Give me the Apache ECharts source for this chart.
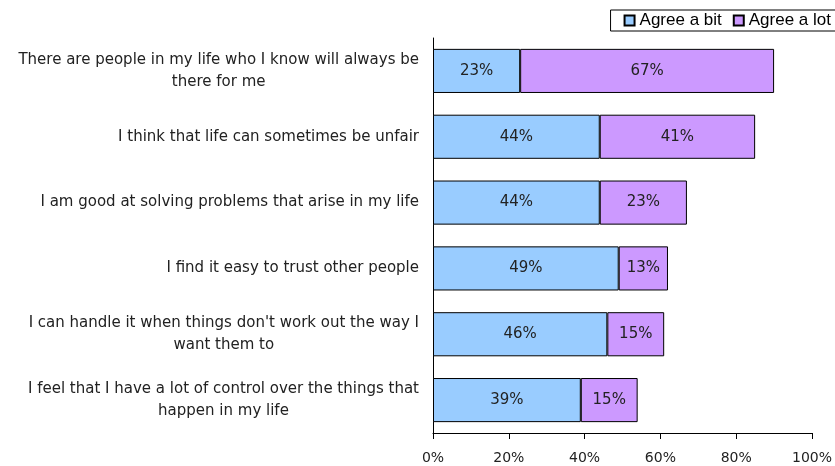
<!DOCTYPE html>
<html>
<head>
<meta charset="utf-8">
<script src="https://cdn.jsdelivr.net/npm/echarts@6/dist/echarts.min.js"></script>
<style>
  html, body { margin: 0; padding: 0; background: #fff; }
  #chart { width: 835px; height: 466px; }
</style>
</head>
<body>
<div id="chart"></div>
<script>
const categories = [
  "There are people in my life who I know will always be\nthere for me",
  "I think that life can sometimes be unfair",
  "I am good at solving problems that arise in my life",
  "I find it easy to trust other people",
  "I can handle it when things don't work out the way I\nwant them to",
  "I feel that I have a lot of control over the things that\nhappen in my life"
];
const agreeBit = [23, 44, 44, 49, 46, 39];
const agreeLot = [67, 41, 23, 13, 15, 15];

var myChart = echarts.init(document.getElementById('chart'));

const labelStyle = {
  show: true,
  position: 'inside',
  color: '#222',
  fontFamily: 'DejaVu Sans',
  fontSize: 15,
  formatter: p => p.value + '%'
};

myChart.setOption({
  animation: false,
  legend: {
    top: 10,
    right: -6,
    orient: 'horizontal',
    itemWidth: 10,
    itemHeight: 10,
    itemGap: 11,
    padding: [2, 10, 2, 13],
    borderColor: '#000',
    borderWidth: 1,
    icon: 'rect',
    textStyle: { fontFamily: 'Liberation Sans', fontSize: 17, color: '#000' },
    data: ['Agree a bit', 'Agree a lot']
  },
  grid: { left: 433, right: 23, top: 38, bottom: 33 },
  xAxis: {
    type: 'value',
    min: 0,
    max: 100,
    interval: 20,
    splitLine: { show: false },
    axisLine: { show: true, lineStyle: { color: '#000' } },
    axisTick: { show: true, length: 6, lineStyle: { color: '#000' } },
    axisLabel: {
      color: '#222',
      fontFamily: 'DejaVu Sans',
      fontSize: 14,
      margin: 18,
      formatter: v => v + '%'
    }
  },
  yAxis: {
    type: 'category',
    inverse: true,
    data: categories,
    axisLine: { show: true, lineStyle: { color: '#000' } },
    axisTick: { show: false },
    axisLabel: {
      color: '#222',
      fontFamily: 'DejaVu Sans',
      fontSize: 15,
      margin: 14,
      lineHeight: 22,
      formatter: v => v.split('\n').map(l => '{c|' + l + '}').join('\n'),
      rich: { c: { align: 'center', fontFamily: 'DejaVu Sans', fontSize: 15, lineHeight: 22, color: '#222' } }
    }
  },
  series: [
    {
      name: 'Agree a bit',
      type: 'bar',
      stack: 'total',
      barWidth: '67%',
      data: agreeBit,
      itemStyle: { color: '#99CCFF', borderColor: '#000', borderWidth: 1 },
      label: labelStyle
    },
    {
      name: 'Agree a lot',
      type: 'bar',
      stack: 'total',
      barWidth: '67%',
      data: agreeLot,
      itemStyle: { color: '#CC99FF', borderColor: '#000', borderWidth: 1 },
      label: labelStyle
    }
  ]
});
</script>
</body>
</html>
